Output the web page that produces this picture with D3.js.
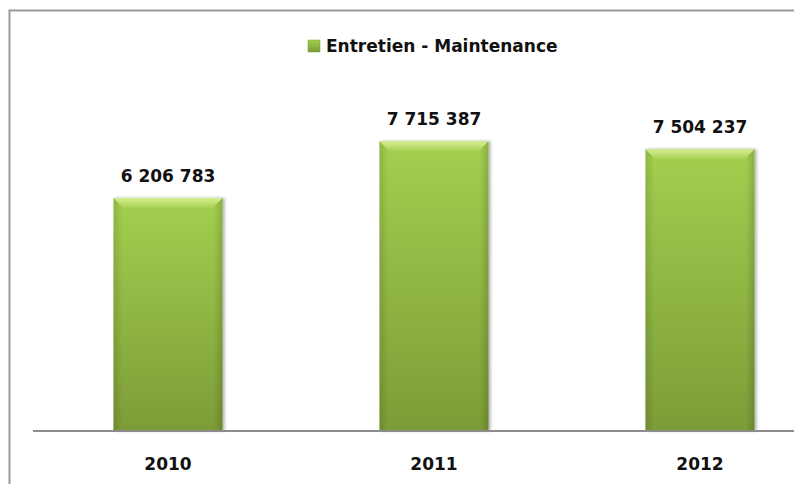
<!DOCTYPE html>
<html>
<head>
<meta charset="utf-8">
<script src="https://cdn.jsdelivr.net/npm/d3@7"></script>
<style>
  body { margin: 0; background: #fff; }
  svg { display: block; }
  text { font-family: "DejaVu Sans", sans-serif; font-weight: bold; fill: #111; }
</style>
</head>
<body>
<svg id="chart" width="794" height="484"></svg>
<script>
// data
const years = ["2010", "2011", "2012"];
const values = [6206783, 7715387, 7504237];
const seriesName = "Entretien - Maintenance";

const svg = d3.select("#chart");

// chart frame (right and bottom edges fall outside the window)
svg.append("rect")
  .attr("x", 9.5).attr("y", 10.5)
  .attr("width", 900).attr("height", 600)
  .attr("fill", "#fff")
  .attr("stroke", "#9a9a9a")
  .attr("stroke-width", 2);

const baseY = 431;
const topY = 93;

const x = d3.scaleBand()
  .domain(years)
  .range([35, 833])
  .paddingInner(0.59)
  .paddingOuter(0.295);

const y = d3.scaleLinear()
  .domain([0, 9000000])
  .range([baseY, topY]);

// gradients for the bevelled bars
const defs = svg.append("defs");
const body = defs.append("linearGradient").attr("id", "barBody")
  .attr("x1", 0).attr("y1", 0).attr("x2", 0).attr("y2", 1);
body.append("stop").attr("offset", "0%").attr("stop-color", "#a3cf4f");
body.append("stop").attr("offset", "100%").attr("stop-color", "#7c9c37");

const side = defs.append("linearGradient").attr("id", "barSide")
  .attr("x1", 0).attr("y1", 0).attr("x2", 1).attr("y2", 0);
side.append("stop").attr("offset", "0%").attr("stop-color", "#000").attr("stop-opacity", 0.12);
side.append("stop").attr("offset", "8%").attr("stop-color", "#000").attr("stop-opacity", 0);
side.append("stop").attr("offset", "92%").attr("stop-color", "#000").attr("stop-opacity", 0);
side.append("stop").attr("offset", "100%").attr("stop-color", "#000").attr("stop-opacity", 0.15);

const hi = defs.append("linearGradient").attr("id", "barTop")
  .attr("x1", 0).attr("y1", 0).attr("x2", 0).attr("y2", 1);
hi.append("stop").attr("offset", "0%").attr("stop-color", "#d6ef94");
hi.append("stop").attr("offset", "100%").attr("stop-color", "#a6d152");

const shadow = defs.append("filter").attr("id", "shadow")
  .attr("x", "-10%").attr("y", "-10%").attr("width", "130%").attr("height", "130%");
shadow.append("feDropShadow")
  .attr("dx", 2).attr("dy", 0).attr("stdDeviation", 1.5)
  .attr("flood-color", "#000").attr("flood-opacity", 0.3);

const data = years.map((yr, i) => ({ year: yr, value: values[i] }));

const bars = svg.append("g").selectAll("g")
  .data(data)
  .join("g");

bars.append("rect")
  .attr("x", d => x(d.year))
  .attr("y", d => y(d.value))
  .attr("width", x.bandwidth())
  .attr("height", d => baseY - y(d.value))
  .attr("fill", "url(#barBody)")
  .attr("filter", "url(#shadow)");

bars.append("rect")
  .attr("x", d => x(d.year))
  .attr("y", d => y(d.value))
  .attr("width", x.bandwidth())
  .attr("height", d => baseY - y(d.value))
  .attr("fill", "url(#barSide)");

// top bevel highlight
const bevel = 10;
bars.append("path")
  .attr("d", d => {
    const x0 = x(d.year), x1 = x0 + x.bandwidth(), t = y(d.value);
    return `M${x0},${t}L${x1},${t}L${x1 - bevel},${t + bevel}L${x0 + bevel},${t + bevel}Z`;
  })
  .attr("fill", "url(#barTop)");

// value labels
bars.append("text")
  .attr("x", d => x(d.year) + x.bandwidth() / 2)
  .attr("y", d => y(d.value) - 16)
  .attr("text-anchor", "middle")
  .attr("font-size", 17)
  .text(d => d3.format(",")(d.value).replace(/,/g, " "));

// category axis
const xAxis = svg.append("g")
  .attr("transform", `translate(0,${baseY})`)
  .call(d3.axisBottom(x).tickSize(0).tickPadding(27));
xAxis.select(".domain").remove();
xAxis.append("line")
  .attr("x1", 33).attr("x2", 794)
  .attr("stroke", "#8c8c8c").attr("stroke-width", 2);
xAxis.selectAll(".tick text")
  .attr("font-size", 17)
  .attr("font-family", "DejaVu Sans, sans-serif")
  .attr("font-weight", "bold")
  .attr("fill", "#111");

// legend
const legend = svg.append("g").attr("transform", "translate(308,40)");
legend.append("rect")
  .attr("width", 12).attr("height", 12)
  .attr("fill", "url(#barBody)")
  .attr("stroke", "#7c9c37").attr("stroke-width", 0.5);
legend.append("text")
  .attr("x", 18).attr("y", 12)
  .attr("font-size", 17)
  .text(seriesName);
</script>
</body>
</html>
